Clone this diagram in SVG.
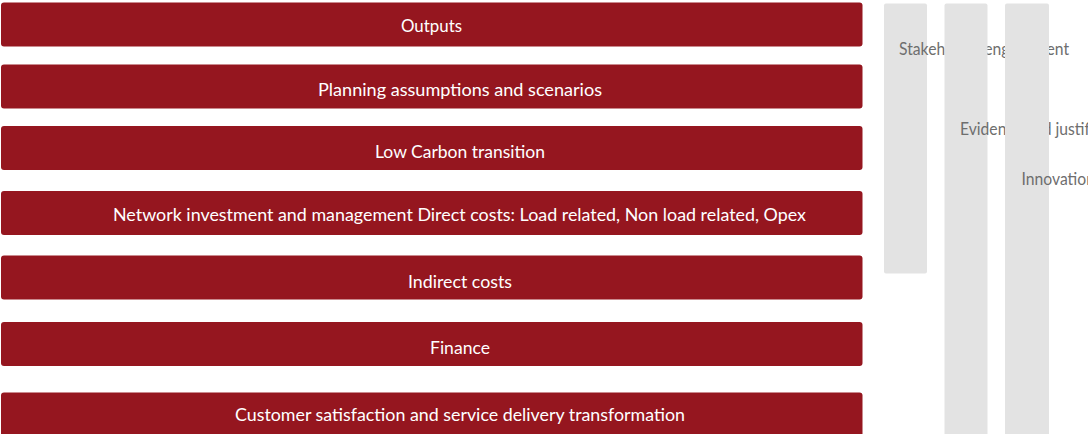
<svg xmlns="http://www.w3.org/2000/svg" width="1088" height="434" viewBox="0 0 1088 434">
  <style>
    .bar { fill: #95161f; }
    .bar-label { fill: #ffffff; font-family: Lato, "Open Sans", sans-serif; font-size: 18px; text-anchor: middle; }
    .col { fill: #e3e3e3; }
    .col-label { fill: #6e6e6e; font-family: Lato, "Open Sans", sans-serif; font-size: 17px; }
  </style>

  <!-- Horizontal cost-area bars -->
  <g id="outputs">
    <rect class="bar" x="1" y="2.5" width="861.5" height="44" rx="3"/>
    <text class="bar-label" x="431.5" y="31.5" textLength="61" lengthAdjust="spacingAndGlyphs">Outputs</text>
  </g>
  <g id="planning">
    <rect class="bar" x="1" y="64.5" width="861.5" height="44" rx="3"/>
    <text class="bar-label" x="460" y="96" textLength="284" lengthAdjust="spacingAndGlyphs">Planning assumptions and scenarios</text>
  </g>
  <g id="low-carbon">
    <rect class="bar" x="1" y="126" width="861.5" height="44" rx="3"/>
    <text class="bar-label" x="460" y="158" textLength="170" lengthAdjust="spacingAndGlyphs">Low Carbon transition</text>
  </g>
  <g id="network">
    <rect class="bar" x="1" y="191" width="861.5" height="44" rx="3"/>
    <text class="bar-label" x="459.5" y="221" textLength="693" lengthAdjust="spacingAndGlyphs">Network investment and management Direct costs: Load related, Non load related, Opex</text>
  </g>
  <g id="indirect">
    <rect class="bar" x="1" y="255.5" width="861.5" height="44" rx="3"/>
    <text class="bar-label" x="460" y="288" textLength="104" lengthAdjust="spacingAndGlyphs">Indirect costs</text>
  </g>
  <g id="finance">
    <rect class="bar" x="1" y="322" width="861.5" height="44" rx="3"/>
    <text class="bar-label" x="460" y="354" textLength="60" lengthAdjust="spacingAndGlyphs">Finance</text>
  </g>
  <g id="customer">
    <rect class="bar" x="1" y="392.5" width="861.5" height="50" rx="3"/>
    <text class="bar-label" x="460" y="421" textLength="450" lengthAdjust="spacingAndGlyphs">Customer satisfaction and service delivery transformation</text>
  </g>

  <!-- Vertical cross-cutting themes; each label sits above its own column and below the later ones.
       Labels are narrowed horizontally to a condensed width. -->
  <g id="stakeholder">
    <rect class="col" x="884" y="3.5" width="43" height="270" rx="2"/>
    <text class="col-label" transform="translate(899 55) scale(0.924 1)">Stakeholder engagement</text>
  </g>
  <g id="evidence">
    <rect class="col" x="944.5" y="3.5" width="43" height="440" rx="2"/>
    <text class="col-label" transform="translate(960 135) scale(0.924 1)">Evidence and justification</text>
  </g>
  <g id="innovation">
    <rect class="col" x="1005" y="3.5" width="44" height="440" rx="2"/>
    <text class="col-label" transform="translate(1021.5 185) scale(0.924 1)">Innovation</text>
  </g>

  <g id="connectors"/>
</svg>
